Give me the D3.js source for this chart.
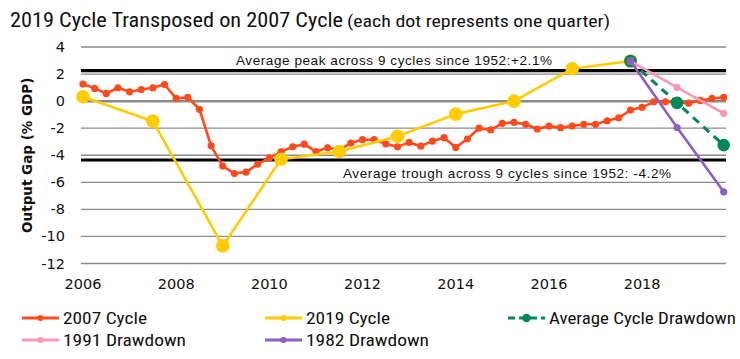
<!DOCTYPE html>
<html><head><meta charset="utf-8">
<script src="https://cdn.jsdelivr.net/npm/d3@7"></script>
<style>body{margin:0;background:#fff}svg{display:block}</style>
</head><body>
<svg id="c" width="740" height="359"></svg>
<script>
// ---- data ----
const startYear = 2006;
const cycle2007 = [1.26,0.94,0.57,0.99,0.69,0.86,0.99,1.23,0.2,0.27,
  -0.6,-3.3,-4.8,-5.35,-5.25,-4.65,-4.2,-3.75,-3.37,-3.18,
  -3.73,-3.45,-3.6,-3.1,-2.85,-2.85,-3.16,-3.38,-3.05,-3.33,
  -2.95,-2.7,-3.42,-2.8,-2.0,-2.13,-1.64,-1.57,-1.71,-2.06,
  -1.84,-1.96,-1.84,-1.71,-1.71,-1.45,-1.23,-0.66,-0.46,-0.05,
  -0.05,-0.1,-0.15,0.05,0.2,0.27];
const cycle2019X = [2006,2007.5,2009,2010.25,2011.5,2012.75,2014,2015.25,2016.5,2017.75];
const cycle2019 = [0.32,-1.48,-10.7,-4.3,-3.72,-2.6,-0.96,0.0,2.39,2.96];
const drawX = [2017.75,2018.75,2019.75];
const avgDrawdown = [2.96,-0.13,-3.25];
const dd1991 = [2.96,1.01,-0.9];
const dd1982 = [2.96,-1.95,-6.7];
const peakLevel = 2.25, troughLevel = -4.35;
const peakLabel = "Average peak across  9 cycles since 1952:+2.1%";
const troughLabel = "Average trough across  9 cycles since 1952: -4.2%";
const yTicks = [4,2,0,-2,-4,-6,-8,-10,-12];
const xTicks = [2006,2008,2010,2012,2014,2016,2018];
const colors = {o:"#FF4A1C", y:"#FFCC00", g:"#00875A", p:"#F799B4", v:"#8C5FC0"};

const svg = d3.select("#c");
const x = d3.scaleLinear([2006, 2019.8], [83, 726]);
const y = d3.scaleLinear([-12, 4], [263.5, 47]);
const left = 81, right = 726;
const condensed = "'Liberation Sans Narrow','Roboto Condensed','Liberation Sans',sans-serif";

// title
svg.append("text").attr("x",10).attr("y",27).attr("fill","#111").style("font-family",condensed)
  .attr("font-size",21).attr("textLength",333).attr("lengthAdjust","spacingAndGlyphs")
  .text("2019 Cycle Transposed on 2007 Cycle");
svg.append("text").attr("x",347).attr("y",27).attr("fill","#111").style("font-family",condensed)
  .attr("font-size",16).attr("textLength",263).attr("lengthAdjust","spacingAndGlyphs")
  .text("(each dot represents one quarter)");

// grid
svg.append("g").selectAll("line").data(yTicks).join("line")
  .attr("x1",left).attr("x2",right).attr("y1",d=>y(d)).attr("y2",d=>y(d))
  .attr("stroke","#8a8a8a").attr("stroke-width",d=>d===0?2.5:1.3);
svg.append("g").selectAll("text").data(yTicks).join("text")
  .attr("x",65).attr("y",d=>y(d)+5).attr("text-anchor","end")
  .attr("font-family","'DejaVu Sans',Verdana,sans-serif").attr("font-size",14.5).attr("fill","#111")
  .text(d=>d);
svg.append("g").selectAll("text").data(xTicks).join("text")
  .attr("x",d=>x(d)).attr("y",289).attr("text-anchor","middle")
  .attr("font-family","'DejaVu Sans',Verdana,sans-serif").attr("font-size",14.5).attr("fill","#111")
  .text(d=>d);
svg.append("text").attr("transform",`translate(32,${y(-4)}) rotate(-90)`)
  .attr("text-anchor","middle").attr("font-family","'DejaVu Sans',Verdana,sans-serif")
  .attr("font-weight","bold").attr("font-size",13.5).attr("fill","#111").text("Output Gap (% GDP)");

// reference lines
[peakLevel, troughLevel].forEach(v=>{
  svg.append("line").attr("x1",left).attr("x2",right).attr("y1",y(v)).attr("y2",y(v))
    .attr("stroke","#000").attr("stroke-width",3.2);
});
svg.append("text").attr("x",236).attr("y",y(peakLevel)-6).attr("font-family","'Liberation Sans',Arial,sans-serif")
  .attr("font-size",13.5).attr("fill","#111").attr("textLength",316).text(peakLabel);
svg.append("text").attr("x",343).attr("y",y(troughLevel)+18).attr("font-family","'Liberation Sans',Arial,sans-serif")
  .attr("font-size",13.5).attr("fill","#111").attr("textLength",328).text(troughLabel);

function series(xs, ys, color, r, width, dash){
  const pts = xs.map((d,i)=>[d, ys[i]]);
  const g = svg.append("g");
  g.append("path").datum(pts).attr("fill","none").attr("stroke",color).attr("stroke-width",width)
    .attr("stroke-dasharray",dash||null).attr("stroke-linejoin","round")
    .attr("d",d3.line().x(d=>x(d[0])).y(d=>y(d[1])));
  g.selectAll("circle").data(pts).join("circle").attr("cx",d=>x(d[0])).attr("cy",d=>y(d[1]))
    .attr("r",r).attr("fill",color);
}
const qx = cycle2007.map((d,i)=>startYear + i*0.25);
series(qx, cycle2007, colors.o, 3.6, 2.6);
series(cycle2019X, cycle2019, colors.y, 6.8, 2.6);
series(drawX, avgDrawdown, colors.g, 6.3, 3, "8,6");
series(drawX, dd1991, colors.p, 3.6, 2.6);
series(drawX, dd1982, colors.v, 3.6, 2.6);

// legend
const legend = [
  {n:"2007 Cycle", c:colors.o, x:22, y:318, w:84},
  {n:"2019 Cycle", c:colors.y, x:265, y:318, w:84},
  {n:"Average Cycle Drawdown", c:colors.g, x:508, y:318, w:187, dash:"7,4"},
  {n:"1991 Drawdown", c:colors.p, x:22, y:340, w:123},
  {n:"1982 Drawdown", c:colors.v, x:265, y:340, w:123}
];
const lg = svg.append("g").selectAll("g").data(legend).join("g").attr("transform",d=>`translate(${d.x},${d.y})`);
lg.append("line").attr("x1",0).attr("x2",37).attr("stroke",d=>d.c).attr("stroke-width",3).attr("stroke-dasharray",d=>d.dash||null);
lg.append("circle").attr("cx",18.5).attr("r",d=>d.dash?4.2:3).attr("fill",d=>d.c);
lg.append("text").attr("x",41).attr("y",6).attr("font-size",17).attr("fill","#111")
  .attr("textLength",d=>d.w).attr("lengthAdjust","spacingAndGlyphs")
  .style("font-family",condensed).text(d=>d.n);
</script>
</body></html>
